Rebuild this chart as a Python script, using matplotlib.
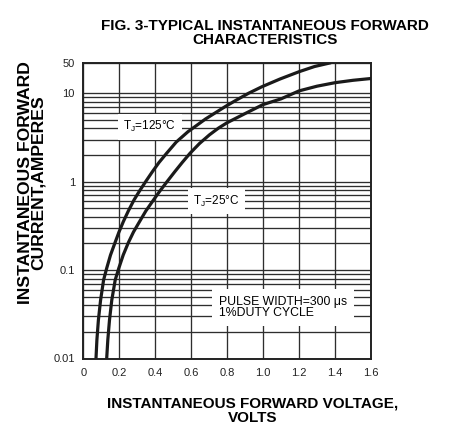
import numpy as np
import matplotlib
matplotlib.use('Agg')
import matplotlib.pyplot as plt
from matplotlib.ticker import FixedLocator, NullFormatter

plt.rcParams['font.family'] = ['Liberation Sans', 'DejaVu Sans']

# forward characteristics (volts, amperes)
v_125 = [0.0706, 0.0756, 0.084, 0.0962, 0.1129, 0.1301, 0.1513, 0.1763, 0.1986,
         0.2225, 0.2503, 0.282, 0.3126, 0.3465, 0.3843, 0.421, 0.4633, 0.5172,
         0.5823, 0.6796, 0.7881, 0.8521, 0.9188, 0.9939, 1.094, 1.1997, 1.2859,
         1.3776]
i_125 = [0.01, 0.0162, 0.0273, 0.0459, 0.0773, 0.105, 0.148, 0.204, 0.27,
         0.353, 0.466, 0.621, 0.785, 1.0, 1.298, 1.649, 2.096, 2.812,
         3.679, 5.12, 7.05, 8.4, 10.0, 14.15, 21.2, 31.1, 40.9,
         50]

v_25 = [0.1301, 0.1363, 0.1457, 0.1585, 0.1774, 0.1974, 0.2219, 0.2503, 0.2792,
        0.3126, 0.3476, 0.3904, 0.426, 0.4655, 0.5089, 0.5501, 0.5935, 0.6463,
        0.7019, 0.7519, 0.7992, 0.8993, 0.9994, 1.0996, 1.1997, 1.2998, 1.3999,
        1.5, 1.6]
i_25 = [0.01, 0.0162, 0.0273, 0.0459, 0.0773, 0.105, 0.148, 0.204, 0.27,
        0.353, 0.466, 0.621, 0.785, 1.0, 1.298, 1.649, 2.096, 2.705,
        3.393, 4.04, 4.64, 5.89, 7.45, 8.65, 11.34, 14.53, 17.46,
        19.81, 21.77]

x_ticks = [0, 0.2, 0.4, 0.6, 0.8, 1.0, 1.2, 1.4, 1.6]
x_labels = ['0', '0.2', '0.4', '0.6', '0.8', '1.0', '1.2', '1.4', '1.6']
y_ticks = [0.01, 0.1, 1, 10, 50]
y_labels = ['0.01', '0.1', '1', '10', '50']

# the datasheet squeezes the 10..50 band on its log axis
K = 0.495


def fwd(y):
    l = np.log10(np.clip(y, 1e-6, None))
    return np.where(l <= 1, l, 1 + (l - 1) * K)


def inv(t):
    t = np.asarray(t, dtype=float)
    return np.where(t <= 1, 10.0 ** t, 10.0 ** (1 + (t - 1) / K))


W, H = 457, 442
fig = plt.figure(figsize=(W / 100, H / 100), dpi=100)
ax = fig.add_axes([83.3 / W, 1 - 358.5 / H, (371 - 83.3) / W, (358.5 - 62.7) / H])

ax.set_yscale('function', functions=(fwd, inv))
ax.set_xlim(0, 1.6)
ax.set_ylim(0.01, 50)

ax.xaxis.set_major_locator(FixedLocator(x_ticks))
ax.set_xticklabels(x_labels)
ax.yaxis.set_major_locator(FixedLocator(y_ticks))
ax.set_yticklabels(y_labels)
minor = [m * 10.0 ** e for e in (-2, -1, 0) for m in range(2, 10)]
ax.yaxis.set_minor_locator(FixedLocator(minor))
ax.yaxis.set_minor_formatter(NullFormatter())

ax.tick_params(which='both', length=0, labelsize=8, colors='#222222')
ax.tick_params(axis='x', pad=7)
ax.tick_params(axis='y', pad=6)
ax.grid(True, which='both', color='#2e2e2e', lw=0.95)
ax.set_axisbelow(True)
for s in ax.spines.values():
    s.set_linewidth(1.4)
    s.set_color('#222222')

ax.plot(v_125, i_125, color='#1a1a1a', lw=2.3, solid_joinstyle='round',
        solid_capstyle='butt', zorder=4)
ax.plot(v_25, i_25, color='#1a1a1a', lw=2.3, solid_joinstyle='round',
        solid_capstyle='butt', zorder=4)

box = dict(facecolor='white', edgecolor='none', boxstyle='square,pad=0.45')
ax.text(0.37, 4.19, r'T$_\mathregular{J}$=125°C', fontsize=8.5, ha='center',
        va='center', bbox=box, zorder=3)
ax.text(0.741, 0.605, r'T$_\mathregular{J}$=25°C', fontsize=8.5, ha='center',
        va='center', bbox=box, zorder=3)
ax.text(0.754, 0.0378, 'PULSE WIDTH=300 μs\n1%DUTY CYCLE', fontsize=8.8,
        ha='left', va='center', linespacing=0.95, zorder=3,
        bbox=dict(facecolor='white', edgecolor='none', boxstyle='square,pad=0.55'))

fig.text(265 / W, 1 - 33.5 / H, 'FIG. 3-TYPICAL INSTANTANEOUS FORWARD\nCHARACTERISTICS',
         ha='center', va='center', fontsize=11, weight='bold', linespacing=1.0)
fig.text(252.5 / W, 1 - 410.5 / H, 'INSTANTANEOUS FORWARD VOLTAGE,\nVOLTS',
         ha='center', va='center', fontsize=11, weight='bold', linespacing=1.0)
fig.text(32 / W, 1 - 183 / H, 'INSTANTANEOUS FORWARD\nCURRENT,AMPERES',
         ha='center', va='center', rotation=90, fontsize=12.6, weight='bold',
         linespacing=0.82)

fig.savefig('out.png', dpi=100)
